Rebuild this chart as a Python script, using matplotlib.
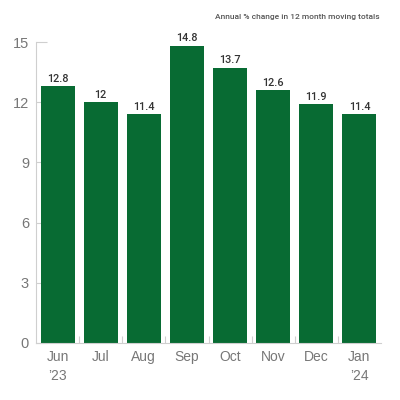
import matplotlib
matplotlib.use("Agg")
import matplotlib.pyplot as plt
import numpy as np

months = ["Jun\n\u201923", "Jul", "Aug", "Sep", "Oct", "Nov", "Dec", "Jan\n\u201924"]
values = [12.8, 12, 11.4, 14.8, 13.7, 12.6, 11.9, 11.4]
value_labels = ["12.8", "12", "11.4", "14.8", "13.7", "12.6", "11.9", "11.4"]
yticks = [0, 3, 6, 9, 12, 15]
title = "Annual % change in 12 month moving totals"

bar_color = "#086b33"
axis_color = "#cfcfcf"
label_color = "#777777"
narrow = ["Liberation Sans Narrow", "Roboto", "DejaVu Sans"]

fig = plt.figure(figsize=(4, 4), dpi=100)
ax = fig.add_axes([0.09, 0.1425, 0.8625, 0.7525])
x = np.arange(len(values))
ax.bar(x, values, width=0.79, color=bar_color, zorder=2)
for xi, v, lab in zip(x, values, value_labels):
    ax.text(xi, v + 0.13, lab, ha="center", va="bottom", fontsize=7.8,
            color="#333333", family=narrow, weight="medium")

ax.set_xlim(-0.5, len(values) - 0.5)
ax.set_ylim(0, 15)
ax.set_yticks(yticks)
ax.set_yticklabels([str(t) for t in yticks], family="Liberation Sans",
                   fontsize=10.5, color=label_color)
ax.set_xticks(x)
ax.set_xticklabels(months, family="Liberation Sans", fontsize=10,
                   color=label_color, linespacing=1.45)
ax.set_xticks(x[:-1] + 0.5, minor=True)
ax.tick_params(axis="x", which="major", length=0, pad=5)
ax.tick_params(axis="x", which="minor", length=5, direction="in", color=axis_color, width=0.8)
ax.tick_params(axis="y", length=8, direction="in", color=axis_color, width=0.8, pad=5)
for s in ["top", "right"]:
    ax.spines[s].set_visible(False)
for s in ["left", "bottom"]:
    ax.spines[s].set_color(axis_color)
    ax.spines[s].set_linewidth(0.8)

fig.text(0.948, 0.958, title, ha="right", va="center", fontsize=6.0,
         color="#555555", family=narrow, weight="medium")

fig.savefig("out.png", dpi=100)
